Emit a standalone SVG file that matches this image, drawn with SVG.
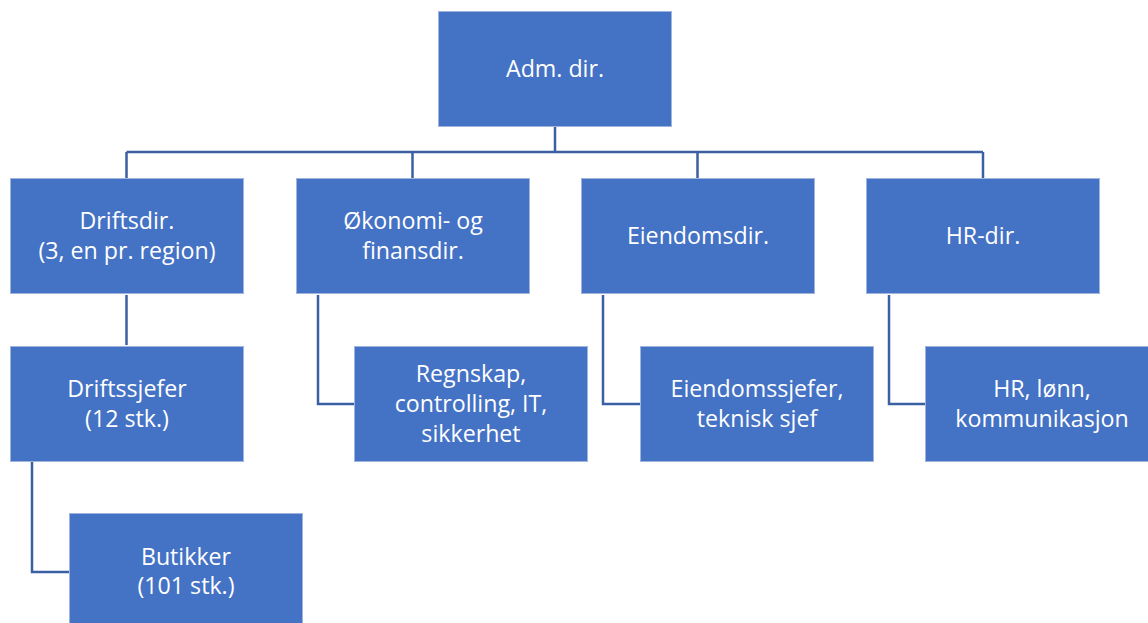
<svg xmlns="http://www.w3.org/2000/svg" width="1148" height="623" viewBox="0 0 1148 623">
<style>
.box{fill:#4472C4;stroke:#9FB5DE;stroke-width:1}
.lbl{font-family:"Open Sans","Liberation Sans",sans-serif;font-size:23.2px;fill:#FFFFFF;text-anchor:middle}
.conn{fill:none;stroke:#3B5FA3;stroke-width:2.5}
</style>
<rect width="1148" height="623" fill="#FFFFFF"/>
<g id="connectors">
<path class="conn" d="M555,127 V152 M126.5,152 H983 M126.5,152 V178 M412.5,152 V178 M697.5,152 V178 M983,152 V178"/>
<path class="conn" d="M126.5,295 V345"/>
<path class="conn" d="M32,462 V572 H69"/>
<path class="conn" d="M318,295 V404 H354"/>
<path class="conn" d="M603,295 V404 H640"/>
<path class="conn" d="M889,295 V404 H925"/>
</g>
<g id="adm">
<rect class="box" x="438.5" y="11.5" width="233" height="115"/>
<text class="lbl" x="555" y="77">Adm. dir.</text>
</g>
<g id="drift">
<rect class="box" x="10.5" y="178.5" width="233" height="115"/>
<text class="lbl" x="127" y="229">Driftsdir.</text>
<text class="lbl" x="127" y="259">(3, en pr. region)</text>
</g>
<g id="okonomi">
<rect class="box" x="296.5" y="178.5" width="233" height="115"/>
<text class="lbl" x="413" y="229">Økonomi- og</text>
<text class="lbl" x="413" y="259">finansdir.</text>
</g>
<g id="eiendom">
<rect class="box" x="581.5" y="178.5" width="233" height="115"/>
<text class="lbl" x="698" y="244">Eiendomsdir.</text>
</g>
<g id="hrdir">
<rect class="box" x="866.5" y="178.5" width="233" height="115"/>
<text class="lbl" x="983" y="244">HR-dir.</text>
</g>
<g id="driftssjefer">
<rect class="box" x="10.5" y="346.5" width="233" height="115"/>
<text class="lbl" x="127" y="397">Driftssjefer</text>
<text class="lbl" x="127" y="427">(12 stk.)</text>
</g>
<g id="butikker">
<rect class="box" x="69.5" y="513.5" width="233" height="115"/>
<text class="lbl" x="186" y="565">Butikker</text>
<text class="lbl" x="186" y="594">(101 stk.)</text>
</g>
<g id="regnskap">
<rect class="box" x="354.5" y="346.5" width="233" height="115"/>
<text class="lbl" x="471" y="382">Regnskap,</text>
<text class="lbl" x="471" y="412">controlling, IT,</text>
<text class="lbl" x="471" y="442">sikkerhet</text>
</g>
<g id="eiendomssjefer">
<rect class="box" x="640.5" y="346.5" width="233" height="115"/>
<text class="lbl" x="757" y="397">Eiendomssjefer,</text>
<text class="lbl" x="757" y="427">teknisk sjef</text>
</g>
<g id="hr">
<rect class="box" x="925.5" y="346.5" width="233" height="115"/>
<text class="lbl" x="1042" y="397">HR, lønn,</text>
<text class="lbl" x="1042" y="427">kommunikasjon</text>
</g>
</svg>
